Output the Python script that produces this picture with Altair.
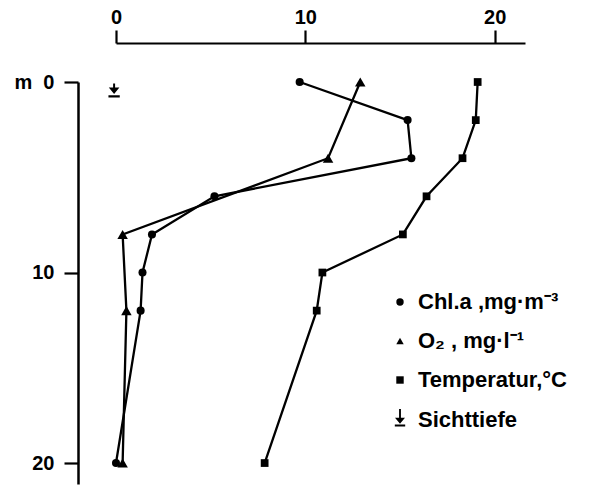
import altair as alt
import pandas as pd

# ---- data ----
chl_depth = [0, 2, 4, 6, 8, 10, 12, 20]
chl_vals = [9.7, 15.4, 15.6, 5.2, 1.9, 1.4, 1.3, 0.0]
o2_depth = [0, 4, 8, 12, 20]
o2_vals = [12.9, 11.2, 0.35, 0.55, 0.35]
temp_depth = [0, 2, 4, 6, 8, 10, 12, 20]
temp_vals = [19.1, 19.0, 18.3, 16.4, 15.15, 10.9, 10.6, 7.85]
secchi_depth = [0.45]
secchi_vals = [-0.1]

series_names = ["Chl.a ,mg·m⁻³", "O₂ , mg·l⁻¹", "Temperatur,°C", "Sichttiefe"]
x_ticks = [0, 10, 20]
y_ticks = [0, 10, 20]

# legend symbol for Secchi depth (long stem, triangle, bar)
secchi_legend_path = ("M-0.25,-3.0H0.25V-0.6H1.35L0,1.0L-1.35,-0.6H-0.25Z "
                      "M-1.4,1.2H1.4V1.75H-1.4Z")
# in-plot symbol for Secchi depth (short stem, triangle, bar)
secchi_plot_path = ("M-0.14,-1H0.14V-0.45H0.75L0,0.5L-0.75,-0.45H-0.14Z "
                    "M-0.8,0.66H0.8V0.98H-0.8Z")
shapes = ["circle", "triangle-up", "square", secchi_legend_path]
sizes = [65, 110, 60, 0]

rows = []
for name, depths, vals, sz in zip(series_names,
                                  [chl_depth, o2_depth, temp_depth, secchi_depth],
                                  [chl_vals, o2_vals, temp_vals, secchi_vals],
                                  sizes):
    for d, v in zip(depths, vals):
        rows.append({"series": name, "depth": d, "value": v, "sz": sz})
df = pd.DataFrame(rows)

FONT = "Liberation Sans"

x = alt.X("value:Q",
          scale=alt.Scale(domain=[0, 21.6], nice=False, zero=False),
          axis=alt.Axis(orient="top", offset=39, values=x_ticks, tickSize=13,
                        tickWidth=2.2, domainWidth=2.2, labelPadding=3,
                        labelFontSize=20, labelFont=FONT, labelColor="black",
                        labelFontWeight="bold",
                        domainColor="black", tickColor="black", grid=False,
                        title=None, labelFlush=False))
y = alt.Y("depth:Q",
          scale=alt.Scale(domain=[0, 21.1], nice=False, reverse=True),
          axis=alt.Axis(orient="left", offset=38, values=y_ticks, tickSize=14,
                        tickWidth=2.2, domainWidth=2.5, labelPadding=10,
                        labelFontSize=20, labelFont=FONT, labelColor="black",
                        labelFontWeight="bold",
                        domainColor="black", tickColor="black", grid=False,
                        title=None, labelFlush=False,
                        labelExpr="datum.value == 0 ? 'm\u00a0\u00a00' : datum.label"))

lines = alt.Chart(df).transform_filter(
    alt.datum.series != "Sichttiefe"
).mark_line(color="black", strokeWidth=2.3, clip=False).encode(
    x=x, y=y, detail="series:N", order="depth:Q")

legend = alt.Legend(title=None, orient="none", legendX=273, legendY=209,
                    labelFontSize=22, labelFont=FONT, labelFontWeight="bold",
                    labelColor="black", rowPadding=17, labelOffset=7,
                    symbolSize=55,
                    symbolFillColor="black", symbolStrokeColor="black",
                    symbolStrokeWidth=0, symbolOpacity=1)

points = alt.Chart(df).mark_point(filled=True, color="black", opacity=1,
                                  clip=False).encode(
    x=x, y=y,
    shape=alt.Shape("series:N", scale=alt.Scale(domain=series_names, range=shapes),
                    legend=legend),
    size=alt.Size("sz:Q", scale=None),
)

secchi = alt.Chart(df).transform_filter(
    alt.datum.series == "Sichttiefe"
).mark_point(filled=True, color="black", opacity=1, clip=False,
             shape=secchi_plot_path, size=200).encode(x=x, y=y)

chart = alt.layer(lines, points, secchi).properties(
    width=409, height=402, autosize="none",
    padding={"left": 116, "top": 82, "right": 67, "bottom": 2},
).configure(background="white").configure_view(strokeWidth=0, stroke="transparent")

chart.save("out.html", embed_options={"renderer": "svg", "actions": False})
